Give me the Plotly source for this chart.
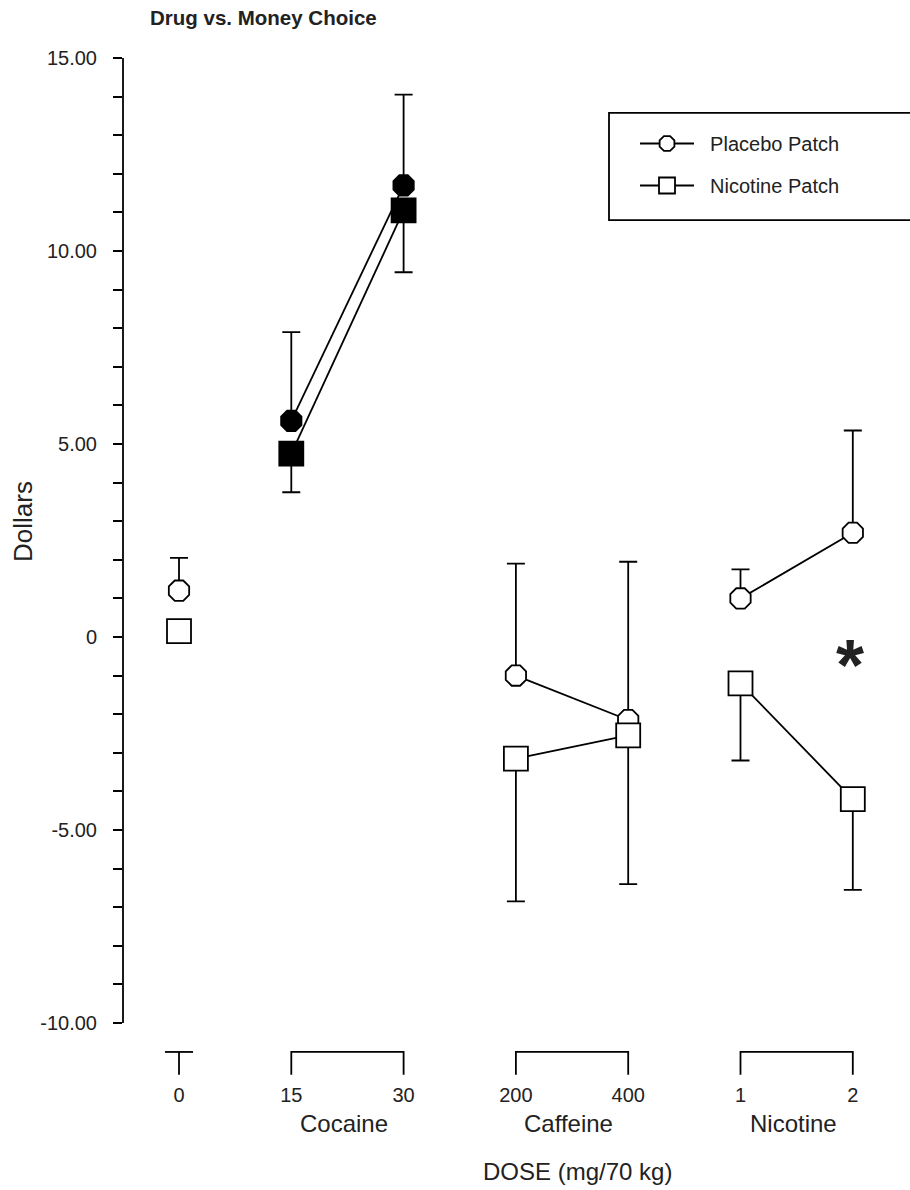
import plotly.graph_objects as go

# ---------------- data ----------------
doses = ["0", "15", "30", "200", "400", "1", "2"]
drug_of_dose = ["", "Cocaine", "Cocaine", "Caffeine", "Caffeine", "Nicotine", "Nicotine"]
drug_groups = ["Cocaine", "Caffeine", "Nicotine"]

placebo_mean = [1.2, 5.6, 11.7, -1.0, -2.15, 1.0, 2.7]
placebo_err_top = [2.05, 7.9, 14.05, 1.9, 1.95, 1.75, 5.35]
nicotine_mean = [0.15, 4.75, 11.05, -3.15, -2.55, -1.2, -4.2]
nicotine_err_bottom = [0.15, 3.75, 9.45, -6.85, -6.4, -3.2, -6.55]
filled = [False, True, True, False, False, False, False]

y_ticks = list(range(-10, 16))
y_ticklabels = {15: "15.00", 10: "10.00", 5: "5.00", 0: "0", -5: "-5.00", -10: "-10.00"}

FONT = "Arial, 'Liberation Sans', sans-serif"
LW = 1.8
NB = "\u00a0"

positions = list(range(len(doses)))


def with_gaps(vals, gap=None):
    out = []
    for i, v in enumerate(vals):
        if i > 0 and (drug_of_dose[i] != drug_of_dose[i - 1] or drug_of_dose[i] == ""):
            out.append(gap)
        out.append(v)
    return out


xg = with_gaps(positions)
pl_y = with_gaps(placebo_mean)
ni_y = with_gaps(nicotine_mean)
pl_up = with_gaps([t - m for t, m in zip(placebo_err_top, placebo_mean)], 0)
ni_dn = with_gaps([m - b for m, b in zip(nicotine_mean, nicotine_err_bottom)], 0)
zeros = [0] * len(xg)
fill_col = with_gaps(["black" if f else "white" for f in filled], "white")

fig = go.Figure()

fig.add_trace(go.Scatter(
    x=xg, y=pl_y, mode="lines+markers", name=NB * 2 + "Placebo Patch",
    line=dict(color="black", width=LW),
    marker=dict(symbol="octagon", size=22, color=fill_col, line=dict(color="black", width=LW)),
    error_y=dict(type="data", symmetric=False, array=pl_up, arrayminus=zeros,
                 color="black", thickness=LW, width=9),
    legendgroup="a", connectgaps=False,
))
fig.add_trace(go.Scatter(
    x=xg, y=ni_y, mode="lines+markers", name=NB * 2 + "Nicotine Patch",
    line=dict(color="black", width=LW),
    marker=dict(symbol="square", size=24, color=fill_col, line=dict(color="black", width=LW)),
    error_y=dict(type="data", symmetric=False, array=zeros, arrayminus=ni_dn,
                 color="black", thickness=LW, width=9),
    legendgroup="b", connectgaps=False,
))

# ---------------- geometry ----------------
W, H = 910, 1190
ml, mr, mt, mb = 123, 1, 46, 115
PW, PH = W - ml - mr, H - mt - mb
px_per_x = 112.3
px_per_y = 38.6
x0_px = 179
xr0 = -(x0_px - ml) / px_per_x
xr1 = xr0 + PW / px_per_x
y0_px = 637
yr1 = (y0_px - mt) / px_per_y
yr0 = (y0_px - (H - mb)) / px_per_y


def py(px):
    return 1 - (px - mt) / PH


def pxf(px):
    return (px - ml) / PW


shapes = []
# y axis line from -10 to 15
shapes.append(dict(type="line", xref="paper", yref="y", x0=0, x1=0, y0=-10, y1=15,
                   line=dict(color="black", width=LW)))
# brackets
b_top, b_bot = -10.75, -11.34
for i, d in enumerate(drug_of_dose):
    if d == "":
        shapes.append(dict(type="line", xref="x", yref="y", x0=i - 0.125, x1=i + 0.125,
                           y0=b_top, y1=b_top, line=dict(color="black", width=LW)))
        shapes.append(dict(type="line", xref="x", yref="y", x0=i, x1=i,
                           y0=b_top, y1=b_bot, line=dict(color="black", width=LW)))
for g in drug_groups:
    idx = [i for i, d in enumerate(drug_of_dose) if d == g]
    a, b = idx[0], idx[-1]
    shapes.append(dict(type="path", xref="x", yref="y",
                       path=f"M {a},{b_bot} L {a},{b_top} L {b},{b_top} L {b},{b_bot}",
                       line=dict(color="black", width=LW)))
# legend frame
shapes.append(dict(type="rect", xref="paper", yref="y",
                   x0=pxf(609), x1=1.03, y0=10.80, y1=13.58,
                   line=dict(color="black", width=LW), fillcolor="rgba(0,0,0,0)"))

annotations = []
for g in drug_groups:
    idx = [i for i, d in enumerate(drug_of_dose) if d == g]
    annotations.append(dict(text=g, x=sum(idx) / len(idx) - 0.03, y=py(1123), xref="x", yref="paper",
                            showarrow=False, font=dict(size=24, family=FONT, color="#222"),
                            xanchor="center", yanchor="middle"))
annotations.append(dict(text="DOSE (mg/70 kg)", x=3.55, y=py(1171), xref="x", yref="paper",
                        showarrow=False, font=dict(size=24, family=FONT, color="#222"),
                        xanchor="center", yanchor="middle"))
annotations.append(dict(text="Dollars", x=pxf(23), y=py(522), xref="paper", yref="paper",
                        showarrow=False, textangle=-90, font=dict(size=26, family=FONT, color="#222"),
                        xanchor="center", yanchor="middle"))
annotations.append(dict(text="<b>Drug vs. Money Choice</b>", x=pxf(148),
                        y=py(18), xref="paper", yref="paper",
                        showarrow=False, font=dict(size=20.5, family=FONT, color="#222"),
                        xanchor="left", yanchor="middle"))
annotations.append(dict(text="<b>*</b>", x=5.975, y=py(665), xref="x", yref="paper",
                        showarrow=False, font=dict(size=72, family=FONT, color="#222"),
                        xanchor="center", yanchor="middle"))

fig.update_layout(
    width=W, height=H,
    margin=dict(l=ml, r=mr, t=mt, b=mb, autoexpand=False),
    paper_bgcolor="white", plot_bgcolor="white",
    font=dict(family=FONT, color="#222", size=20),
    showlegend=True,
    legend=dict(x=pxf(635), y=py(124), xanchor="left", yanchor="top",
                bgcolor="rgba(0,0,0,0)", borderwidth=0,
                font=dict(size=20, family=FONT, color="#222"), tracegroupgap=13,
                traceorder="grouped", itemwidth=54),
    xaxis=dict(range=[xr0, xr1], tickvals=positions, ticktext=doses, showgrid=False,
               zeroline=False, showline=False, ticks="", tickfont=dict(size=20),
               ticklabelstandoff=6),
    yaxis=dict(range=[yr0, yr1], tickvals=y_ticks,
               ticktext=[y_ticklabels.get(v, "") for v in y_ticks],
               showgrid=False, zeroline=False, showline=False, ticks="outside",
               ticklen=9, tickwidth=LW, tickcolor="black", tickfont=dict(size=20),
               ticklabelstandoff=12),
    shapes=shapes, annotations=annotations,
)

fig.write_html("out.html")
